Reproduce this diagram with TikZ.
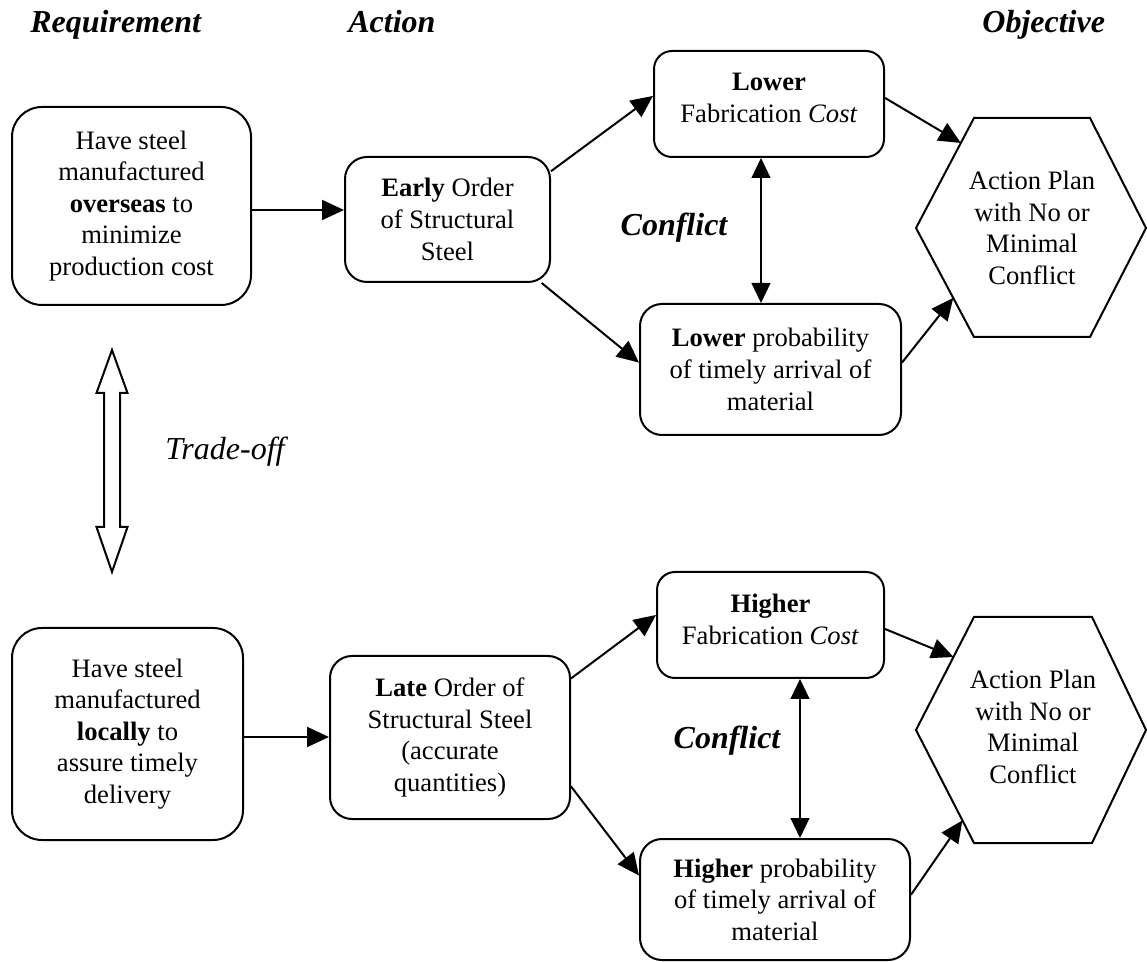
\documentclass[tikz,border=0pt]{standalone}
\usepackage{fontspec}
\setmainfont{Liberation Serif}
\usetikzlibrary{arrows.meta,calc}
\begin{document}
\begin{tikzpicture}[x=0.5pt,y=-0.5pt,
  box/.style={draw, line width=1pt, rounded corners=11pt, inner sep=0pt,
    align=center, font=\fontsize{13.3}{15.8}\selectfont},
  reqbox/.style={box, rounded corners=15pt},
  costbox/.style={box, rounded corners=9pt, text depth=6pt},
  head/.style={font=\fontsize{16}{19}\selectfont\bfseries\itshape,
    anchor=base west, inner sep=0pt},
  conflict/.style={font=\fontsize{16}{19}\selectfont\bfseries\itshape,
    anchor=base, inner sep=0pt},
  hextext/.style={inner sep=0pt, align=center,
    font=\fontsize{13.3}{15.8}\selectfont},
  arr/.style={line width=1pt, -{Triangle[length=11pt,width=10pt]}},
  dblarr/.style={line width=0.6pt,
    {Triangle[length=10pt,width=9.5pt]}-{Triangle[length=10pt,width=9.5pt]}},
  outline/.style={line width=1pt, line join=miter}
]
\useasboundingbox (0,0) rectangle (1147,962);

% column headings
\node[head] (hreq) at (30,33) {Requirement};
\node[head] (hact) at (348,33) {Action};
\node[head] (hobj) at (982,33) {Objective};

% ---------- upper scenario ----------
\node[reqbox, minimum width=119.5pt, minimum height=99pt] (req1) at (131.5,206)
  {Have steel\\manufactured\\\textbf{overseas} to\\minimize\\production cost};
\node[box, minimum width=102.5pt, minimum height=62.5pt] (act1) at (447.5,219.5)
  {\textbf{Early} Order\\of Structural\\Steel};
\node[costbox, minimum width=115pt, minimum height=53pt] (cost1) at (769,104)
  {\textbf{Lower}\\Fabrication \textit{Cost}};
\node[box, minimum width=130.5pt, minimum height=65.5pt] (prob1) at (770.5,369.5)
  {\textbf{Lower} probability\\of timely arrival of\\material};

% objective hexagon
\coordinate (h1tl) at (974,118);
\coordinate (h1tr) at (1090,118);
\coordinate (h1r)  at (1146,228);
\coordinate (h1br) at (1090,337);
\coordinate (h1bl) at (974,337);
\coordinate (h1l)  at (916,228);
\draw[outline] (h1tl) -- (h1tr) -- (h1r) -- (h1br) -- (h1bl) -- (h1l) -- cycle;
\node[hextext] (hex1) at (1032,228) {Action Plan\\with No or\\Minimal\\Conflict};
\coordinate (h1in1) at ($(h1l)!0.773!(h1tl)$);
\coordinate (h1in2) at ($(h1l)!0.642!(h1bl)$);

\node[conflict] (conf1) at (674,236) {Conflict};

\draw[arr] ([yshift=-2pt]req1.east) -- ([yshift=-2pt]req1.east -| act1.west);
\draw[arr] (act1.25) -- (cost1.176);
\draw[arr] (act1.-34) -- (prob1.177);
\draw[arr] (cost1.3) -- (h1in1);
\draw[arr] (prob1.3) -- (h1in2);
\draw[dblarr] ([xshift=-4pt]cost1.south) -- ([xshift=-4pt]cost1.south |- prob1.north);

% ---------- trade-off ----------
\draw[outline] (112,350) -- (127.5,393) -- (120,393) -- (120,527) -- (127.5,527)
  -- (112,572) -- (96.5,527) -- (104,527) -- (104,393) -- (96.5,393) -- cycle;
\node[inner sep=0pt, anchor=base, font=\fontsize{16}{19}\selectfont\itshape]
  (trade) at (225,460) {Trade-off};

% ---------- lower scenario ----------
\node[reqbox, minimum width=115.5pt, minimum height=106pt] (req2) at (127.5,734)
  {Have steel\\manufactured\\\textbf{locally} to\\assure timely\\delivery};
\node[box, minimum width=120pt, minimum height=81.5pt] (act2) at (450,737.5)
  {\textbf{Late} Order of\\Structural Steel\\(accurate\\quantities)};
\node[costbox, minimum width=113.5pt, minimum height=53pt] (cost2) at (770.5,625)
  {\textbf{Higher}\\Fabrication \textit{Cost}};
\node[box, minimum width=135pt, minimum height=60.5pt] (prob2) at (775,899.5)
  {\textbf{Higher} probability\\of timely arrival of\\material};

\coordinate (h2tl) at (974,617);
\coordinate (h2tr) at (1092,617);
\coordinate (h2r)  at (1146,730);
\coordinate (h2br) at (1092,843);
\coordinate (h2bl) at (974,843);
\coordinate (h2l)  at (916,730);
\draw[outline] (h2tl) -- (h2tr) -- (h2r) -- (h2br) -- (h2bl) -- (h2l) -- cycle;
\node[hextext] (hex2) at (1033,727) {Action Plan\\with No or\\Minimal\\Conflict};
\coordinate (h2in1) at ($(h2l)!0.646!(h2tl)$);
\coordinate (h2in2) at ($(h2l)!0.8!(h2bl)$);

\node[conflict] (conf2) at (727,748) {Conflict};

\draw[arr] ([yshift=-1.5pt]req2.east) -- ([yshift=-1.5pt]req2.east -| act2.west);
\draw[arr] (act2.26.8) -- (cost2.175);
\draw[arr] (act2.-22.4) -- (prob2.170.5);
\draw[arr] (cost2.-2.5) -- (h2in1);
\draw[arr] (prob2.2.8) -- (h2in2);
\draw[dblarr] ([xshift=14.75pt]cost2.south) -- ([xshift=14.75pt]cost2.south |- prob2.north);

\end{tikzpicture}
\end{document}
